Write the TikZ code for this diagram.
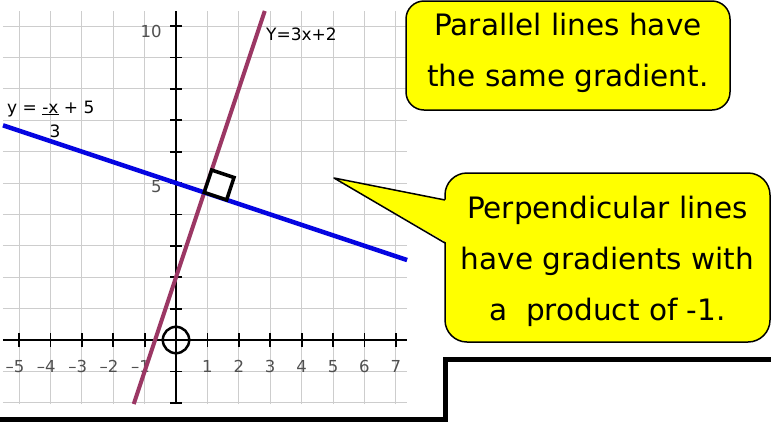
\documentclass[tikz,border=0pt]{standalone}
\usepackage{fontspec}
\setmainfont{DejaVu Sans}
\usepackage{tikz}
\usetikzlibrary{positioning,calc}
\definecolor{CallYellow}{RGB}{255,255,0}
\definecolor{LinePink}{RGB}{155,55,100}
\definecolor{LineBlue}{RGB}{5,5,225}
\definecolor{GridGray}{RGB}{205,205,205}
\definecolor{NumGray}{RGB}{80,80,80}

\begin{document}
\begin{tikzpicture}[x=1pt, y=-1pt,
    callout/.style={rectangle, draw=black, line width=1.5pt, fill=CallYellow,
                    align=center, inner sep=0pt, font=\fontsize{29.5}{51}\selectfont},
    gline/.style={draw=GridGray, line width=0.8pt},
    aline/.style={draw=black, line width=2.5pt},
    axtick/.style={draw=black, line width=1.8pt},
    pinkline/.style={draw=LinePink, line width=4pt},
    blueline/.style={draw=LineBlue, line width=4.5pt},
    rightangle/.style={draw=black, fill=white, line width=3.5pt, line join=miter},
    numlab/.style={inner sep=0pt, text=NumGray, font=\fontsize{16.5}{19}\selectfont},
    eqlab/.style={inner sep=0pt, font=\fontsize{17}{20}\selectfont},
    frame/.style={draw=black, line width=5pt, line join=miter}
]
    \path[use as bounding box, fill=white] (0,0) rectangle (771,421);

    % graph paper
    \begin{scope}[shift={(176,340)}, x=31.4pt, y=31.4pt]
        \foreach \i in {-5,...,7} \draw[gline] (\i,-2.04) -- (\i,10.48);
        \foreach \j in {-2,...,10} \draw[gline] (-5.51,\j) -- (7.36,\j);

        \draw[aline] (-5.51,0) -- (7.36,0);
        \draw[aline] (0,-2.04) -- (0,10.48);
        \foreach \i in {-5,...,7} \draw[axtick] (\i,-0.22) -- (\i,0.22);
        \foreach \j in {-2,...,10} \draw[axtick] (-0.19,\j) -- (0.19,\j);

        \foreach \i in {1,...,7} \node[numlab] (xl\i) at (\i,-0.85) {\i};
        \foreach \i in {1,...,5} \node[numlab] (xm\i) at (-\i,-0.85) {\llap{--}\i};
        \node[numlab, anchor=east] (yl10) at (-0.45,9.84) {10};
        \node[numlab, anchor=east] (yl5) at (-0.45,4.87) {5};

        \draw[pinkline] (-1.347,-2.04) -- (2.827,10.48);
        \draw[blueline] (-5.51,6.837) -- (7.36,2.547);
        \draw[aline] (0,0) circle (0.42);
        \draw[rightangle] (0.9,4.7) -- ++(0.237,0.712) -- ++(0.712,-0.237)
            -- ++(-0.237,-0.712) -- cycle;
    \end{scope}

    \node[eqlab, anchor=base west] (pinkeq) at (266,40) {Y=3x+2};
    \node[eqlab, anchor=base west] (blueeq) at (7,113) {y = \underline{-x} + 5};
    \node[eqlab, anchor=base] (blueden) at (55,137) {3};

    \draw[frame] (0,419) -- (445.5,419) -- (445.5,359.5) -- (771,359.5);

    % callouts
    \node[callout, rounded corners=18pt, minimum width=324pt, minimum height=109pt]
        (para) at (568,55.5) {Parallel lines have\\the same gradient.\rule[-12.4pt]{0pt}{0pt}};
    \node[callout, rounded corners=22pt, minimum width=325pt, minimum height=169pt]
        (perp) at (607.5,257.5) {\rule{0pt}{30pt}Perpendicular lines\\have gradients with\\a\ \ product of -1.};

    \coordinate (tip) at (334,178);
    \fill[CallYellow] (tip) -- ($(perp.west)+(3,-57.5)$) -- ($(perp.west)+(3,-14.5)$) -- cycle;
    \draw[line width=1.5pt, line join=round]
        ($(perp.west)+(0.75,-57.5)$) -- (tip) -- ($(perp.west)+(0.75,-14.5)$);
\end{tikzpicture}
\end{document}
